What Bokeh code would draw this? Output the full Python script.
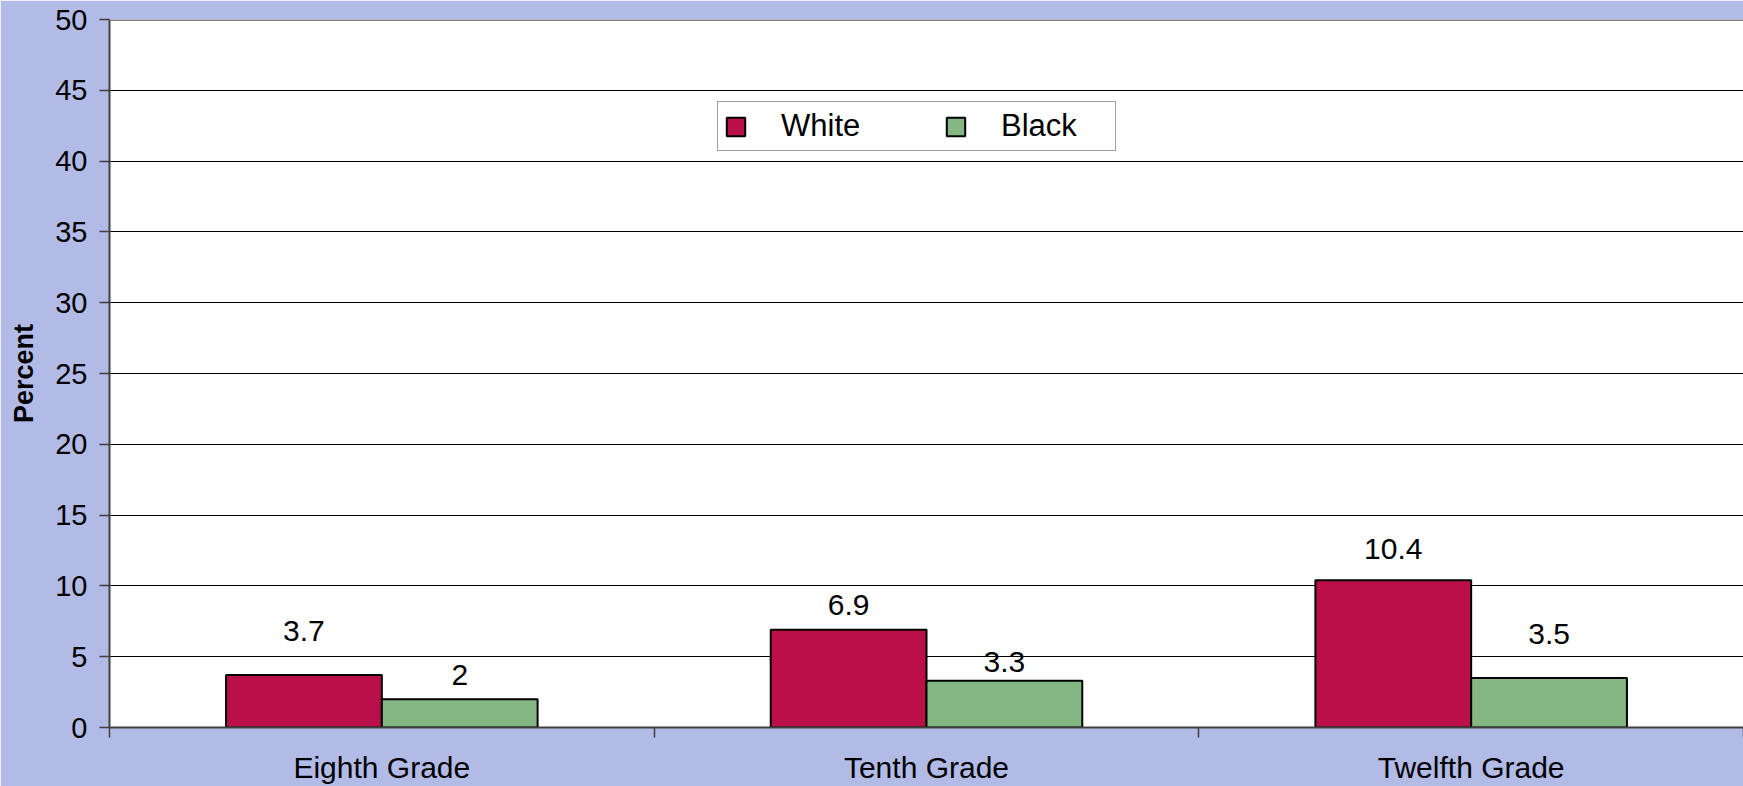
from bokeh.plotting import figure
from bokeh.models import ColumnDataSource, Range1d, FixedTicker, Legend, LegendItem, Span
from bokeh.transform import dodge
from bokeh.core.properties import value
from bokeh.embed import file_html
from bokeh.resources import INLINE

# ---- data ----
categories = ["Eighth Grade", "Tenth Grade", "Twelfth Grade"]
white_values = [3.7, 6.9, 10.4]
black_values = [2, 3.3, 3.5]
y_ticks = [0, 5, 10, 15, 20, 25, 30, 35, 40, 45, 50]
# label offsets above bar tops (pixels), as placed in the original
white_label_offsets = [44, 25, 31]
black_label_offsets = [24, 19, 44]

FONT = "Liberation Sans"
BG = "#B2BAE6"
WHITE_COLOR = "#BA0F48"
BLACK_COLOR = "#85B785"
AXIS_COLOR = "#404040"

pos = [i + 0.5 for i in range(len(categories))]
src = ColumnDataSource(dict(
    x=pos,
    white=white_values,
    black=black_values,
    wl=[f"{v:g}" for v in white_values],
    bl=[f"{v:g}" for v in black_values],
    wo=[-o for o in white_label_offsets],
    bo=[-o for o in black_label_offsets],
))

p = figure(width=1743, height=786,
           x_range=Range1d(0, len(categories)), y_range=Range1d(0, 50),
           output_backend="svg", toolbar_location=None,
           min_border_left=109, min_border_right=0,
           min_border_top=19, min_border_bottom=59)
p.background_fill_color = "white"
p.border_fill_color = BG
p.outline_line_color = None

bw = 0.286
rw = p.vbar(x=dodge("x", -bw / 2, range=p.x_range), top="white", width=bw, source=src,
            fill_color=WHITE_COLOR, line_color="black", line_width=2)
rb = p.vbar(x=dodge("x", bw / 2, range=p.x_range), top="black", width=bw, source=src,
            fill_color=BLACK_COLOR, line_color="black", line_width=2)

p.text(x=dodge("x", -bw / 2, range=p.x_range), y="white", text="wl", y_offset="wo", source=src,
       text_font=value(FONT), text_font_size="30px", text_align="center",
       text_baseline="middle", text_color="black")
p.text(x=dodge("x", bw / 2, range=p.x_range), y="black", text="bl", y_offset="bo", source=src,
       text_font=value(FONT), text_font_size="30px", text_align="center",
       text_baseline="middle", text_color="black")

# grid
p.xgrid.visible = False
p.ygrid.ticker = FixedTicker(ticks=y_ticks)
p.ygrid.grid_line_color = "black"
p.ygrid.grid_line_width = 1
p.add_layout(Span(location=50, dimension="width", line_color="#808080", line_width=3))

# y axis
ya = p.yaxis[0]
ya.ticker = FixedTicker(ticks=y_ticks)
ya.axis_line_color = AXIS_COLOR
ya.axis_line_width = 2
ya.major_tick_out = 10
ya.major_tick_in = 0
ya.minor_tick_out = 0
ya.minor_tick_in = 0
ya.major_tick_line_color = AXIS_COLOR
ya.major_tick_line_width = 1.5
ya.major_label_text_font = FONT
ya.major_label_text_font_size = "29px"
ya.major_label_text_color = "black"
ya.major_label_standoff = 12
ya.axis_label = "Percent"
ya.axis_label_text_font = FONT
ya.axis_label_text_font_size = "27px"
ya.axis_label_text_font_style = "bold"
ya.axis_label_text_color = "black"
ya.axis_label_standoff = 13

# x axis
xa = p.xaxis[0]
xa.ticker = FixedTicker(ticks=pos, minor_ticks=list(range(len(categories) + 1)))
xa.major_label_overrides = {x: c for x, c in zip(pos, categories)}
xa.axis_line_color = AXIS_COLOR
xa.axis_line_width = 2
xa.major_tick_out = 0
xa.major_tick_in = 0
xa.minor_tick_out = 10
xa.minor_tick_in = 0
xa.minor_tick_line_color = AXIS_COLOR
xa.minor_tick_line_width = 1.5
xa.major_label_text_font = FONT
xa.major_label_text_font_size = "30px"
xa.major_label_text_color = "black"
xa.major_label_standoff = 13

legend = Legend(items=[LegendItem(label="White", renderers=[rw]),
                       LegendItem(label="Black", renderers=[rb])],
                orientation="horizontal", location=(608, 576),
                padding=6, spacing=55, glyph_width=23, glyph_height=23,
                label_standoff=34, label_width=108,
                label_text_font=FONT, label_text_font_size="31px",
                label_text_color="black",
                border_line_color=AXIS_COLOR, border_line_width=1.5,
                background_fill_color="white", background_fill_alpha=1.0,
                margin=0)
p.add_layout(legend)

open("out.html", "w").write(file_html(p, INLINE))
